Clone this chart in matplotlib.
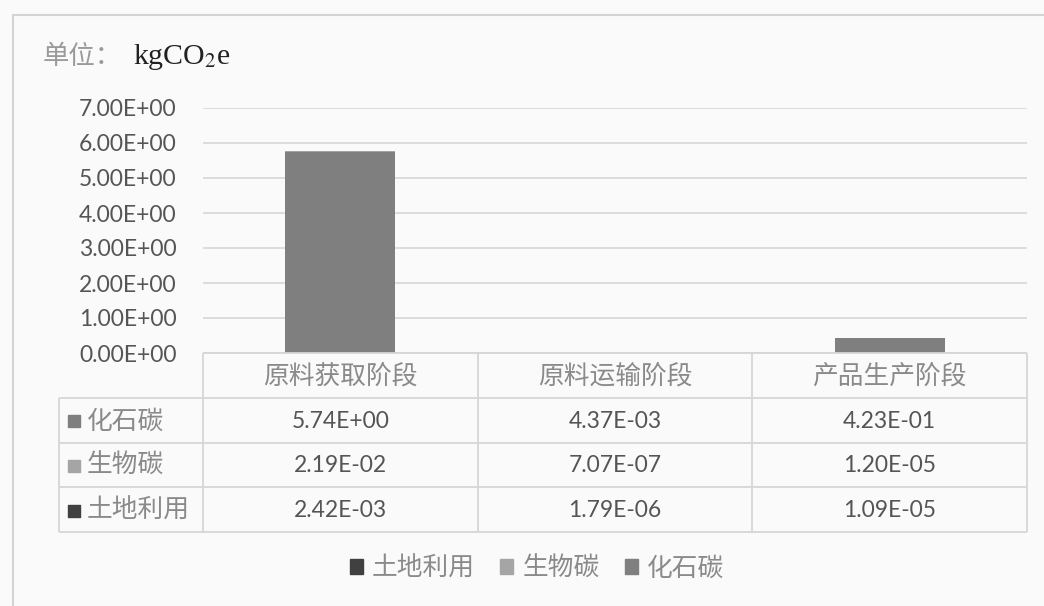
import numpy as np
import matplotlib.pyplot as plt
from matplotlib.patches import Patch
from matplotlib.transforms import ScaledTranslation

plt.rcParams['font.family'] = ['Lato', 'Noto Sans CJK SC', 'DejaVu Sans']
plt.rcParams['mathtext.fontset'] = 'stix'

stages = ['原料获取阶段', '原料运输阶段', '产品生产阶段']
series = ['化石碳', '生物碳', '土地利用']
fossil = [5.74e+00, 4.37e-03, 4.23e-01]
bio = [2.19e-02, 7.07e-07, 1.20e-05]
land = [2.42e-03, 1.79e-06, 1.09e-05]
colors = ['#7f7f7f', '#a5a5a5', '#404040']
yticks = [0, 1, 2, 3, 4, 5, 6, 7]

W, H = 1044, 606
fig = plt.figure(figsize=(W / 100, H / 100), dpi=100, facecolor='#fafafa')

def px(x0, y0, x1, y1):
    # pixel box -> figure fraction rect
    return [x0 / W, 1 - y1 / H, (x1 - x0) / W, (y1 - y0) / H]

# outer chart frame (left & top visible)
fig.add_artist(plt.Line2D([13 / W, 13 / W], [1 - 15 / H, 0], color='#d4d4d4', lw=1.5))
fig.add_artist(plt.Line2D([13 / W, 1], [1 - 15 / H, 1 - 15 / H], color='#d4d4d4', lw=1.5))

ax = fig.add_axes(px(203, 108, 1027, 353))
ax.set_facecolor('none')
x = np.arange(len(stages))
data = [fossil, bio, land]
bottom = np.zeros(len(stages))
for vals, c, name in zip(data, colors, series):
    ax.bar(x, vals, 0.4, bottom=bottom, color=c, label=name, zorder=3)
    bottom += np.array(vals)
ax.set_xlim(-0.5, len(stages) - 0.5)
ax.set_ylim(0, 7)
ax.set_yticks(yticks)
ax.set_yticklabels([f'{v:.2E}' for v in yticks], fontsize=16.5, color='#555555')
ax.tick_params(axis='y', length=0, pad=19)
ax.set_xticks([])
ax.grid(axis='y', color='#d9d9d9', lw=1.3, zorder=0)
for s in ax.spines.values():
    s.set_visible(False)

# data table
tab = fig.add_axes(px(203, 353, 1027, 532))
tab.set_xlim(-0.5, len(stages) - 0.5)
tab.set_ylim(len(series) + 1, 0)
tab.axis('off')
left = -0.5 - (203 - 59) / (824 / 3)
lc = '#d6d6d6'
tab.vlines(np.arange(len(stages) + 1) - 0.5, 0, len(series) + 1, color=lc, lw=1.3, clip_on=False)
tab.vlines([left], 1, len(series) + 1, color=lc, lw=1.3, clip_on=False)
tab.hlines([0], -0.5, len(stages) - 0.5, color=lc, lw=1.3, clip_on=False)
tab.hlines(np.arange(1, len(series) + 2), left, len(stages) - 0.5, color=lc, lw=1.3, clip_on=False)
for i, st in enumerate(stages):
    tab.text(i, 0.52, st, ha='center', va='center', fontsize=18.5, color='#8a8a8a')
shift = tab.transData + ScaledTranslation(15 / 100, 0, fig.dpi_scale_trans)
for r, (name, vals, c) in enumerate(zip(series, data, colors)):
    yy = r + 1.52
    tab.scatter([left], [yy], marker='s', s=85, color=c, clip_on=False, transform=shift)
    tab.annotate(name, xy=(left, yy), xytext=(20, 0), textcoords='offset points',
                 ha='left', va='center', fontsize=18.5, color='#8a8a8a', annotation_clip=False)
    for i, v in enumerate(vals):
        tab.text(i, yy, f'{v:.2E}', ha='center', va='center', fontsize=16.5, color='#555555')

# title
fig.text(43 / W, 1 - 64 / H, '单位：', fontsize=19, color='#9a9a9a', va='baseline',
         family=['Noto Sans CJK SC'])
fig.text(133 / W, 1 - 64 / H, 'kgCO$_2$e', fontsize=21.5, color='#222222', va='baseline',
         family=['Liberation Serif'])

# legend
handles = [Patch(color=colors[2]), Patch(color=colors[1]), Patch(color=colors[0])]
fig.legend(handles, [series[2], series[1], series[0]], loc='center',
           bbox_to_anchor=(537 / W, 1 - 568 / H), ncol=3, frameon=False,
           fontsize=18.5, labelcolor='#8a8a8a', handlelength=0.5, handleheight=0.5,
           handletextpad=0.35, columnspacing=1.0)

fig.savefig('out.png', dpi=100, facecolor=fig.get_facecolor())
